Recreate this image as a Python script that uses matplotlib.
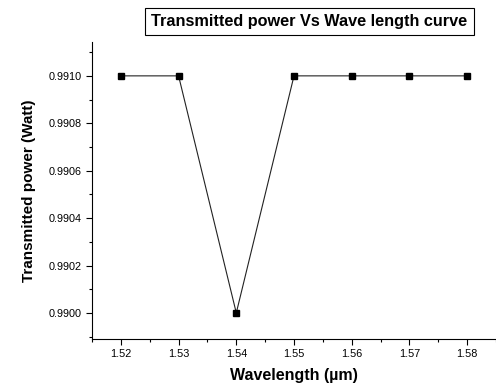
import matplotlib.pyplot as plt
from matplotlib.ticker import MultipleLocator, FormatStrFormatter

plt.rcParams['font.family'] = ['Liberation Sans', 'DejaVu Sans']

# data
wavelength = [1.52, 1.53, 1.54, 1.55, 1.56, 1.57, 1.58]
power = [0.9910, 0.9910, 0.9900, 0.9910, 0.9910, 0.9910, 0.9910]

fig = plt.figure(figsize=(4.96, 3.85), dpi=100)
ax = fig.add_axes([0.1855, 0.1195, 0.8145, 0.7715])

ax.plot(wavelength, power, color='#222222', linewidth=0.8,
        marker='s', markersize=4.8, markerfacecolor='k', markeredgecolor='k')

ax.set_xlim(1.515, 1.585)
ax.set_ylim(0.98989, 0.991143)

ax.spines['top'].set_visible(False)
ax.spines['right'].set_visible(False)

ax.xaxis.set_major_locator(MultipleLocator(0.01))
ax.xaxis.set_minor_locator(MultipleLocator(0.005))
ax.yaxis.set_major_locator(MultipleLocator(0.0002))
ax.yaxis.set_minor_locator(MultipleLocator(0.0001))
ax.xaxis.set_major_formatter(FormatStrFormatter('%.2f'))
ax.yaxis.set_major_formatter(FormatStrFormatter('%.4f'))

ax.tick_params(which='both', direction='out', labelsize=7.8)
ax.tick_params(which='major', length=4, width=0.8)
ax.tick_params(which='minor', length=2.5, width=0.8)

ax.set_xlabel('Wavelength (µm)', fontsize=11.5, fontweight='bold', labelpad=6)
ax.set_ylabel('Transmitted power (Watt)', fontsize=11, fontweight='bold', labelpad=9)

fig.text(0.624, 0.945, 'Transmitted power Vs Wave length curve', ha='center', va='center',
         fontsize=11.7, fontweight='bold',
         bbox=dict(boxstyle='square,pad=0.38', facecolor='white', edgecolor='k', linewidth=0.8))

fig.savefig('out.png', dpi=100)
